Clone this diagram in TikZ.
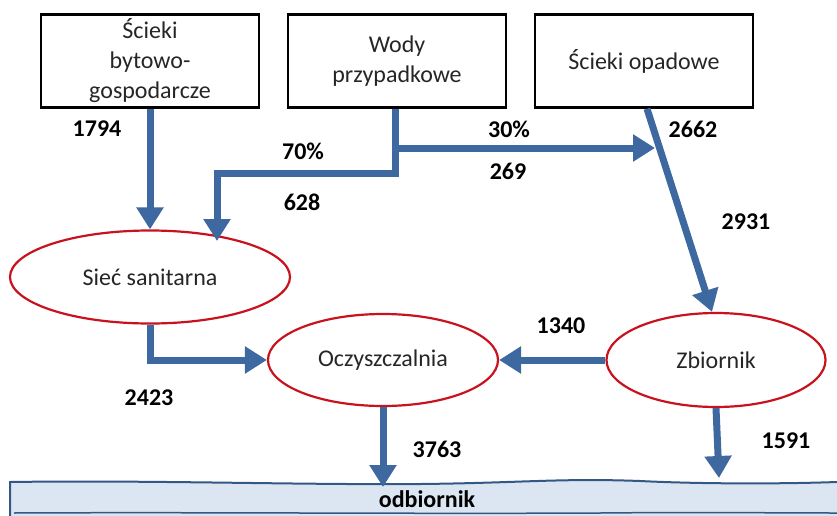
\documentclass[tikz,border=0pt]{standalone}
\usepackage{fontspec}
\setmainfont{Carlito}
\usetikzlibrary{shapes.geometric,arrows.meta,calc}
\definecolor{flow}{RGB}{62,104,160}
\definecolor{ring}{RGB}{200,18,30}
\definecolor{bandfill}{RGB}{220,230,242}
\definecolor{bandedge}{RGB}{52,88,132}
\definecolor{txt}{RGB}{38,38,38}

\begin{document}
\begin{tikzpicture}[x=1pt,y=-1pt,
  source/.style={draw=black, line width=2.5pt, minimum width=218pt, minimum height=93pt,
    align=center, inner sep=0pt, text=txt, font=\fontsize{24}{30}\selectfont},
  stage/.style={draw=ring, ellipse, line width=2.2pt, inner sep=0pt, text=txt,
    font=\fontsize{24}{28}\selectfont},
  flowline/.style={draw=flow, line width=7pt, line join=miter,
    -{Triangle[length=22pt,width=26pt]}},
  qty/.style={inner sep=0pt, font=\bfseries\fontsize{24}{28}\selectfont}]

\useasboundingbox (0,0) rectangle (837,516);

% receiving water body
\fill[bandfill] (10,482) .. controls (150,480) and (300,485) .. (420,484)
  .. controls (520,483) and (560,478) .. (640,481)
  .. controls (700,484) and (780,484) .. (837,482)
  -- (837,516) -- (10,516) -- cycle;
\draw[bandedge, line width=2pt] (10,516) -- (10,482)
  .. controls (150,480) and (300,485) .. (420,484)
  .. controls (520,483) and (560,478) .. (640,481)
  .. controls (700,484) and (780,484) .. (837,482);
\draw[bandedge, line width=1.5pt] (14,513) .. controls (200,512) and (400,514) .. (600,513)
  .. controls (700,512) and (780,513) .. (837,513);
\node[font=\bfseries\fontsize{24}{28}\selectfont, inner sep=0pt] (odb) at (427,499) {odbiornik};

% sources
\node[source] (bytowe) at (150,61) {Ścieki\\bytowo-\\gospodarcze};
\node[source] (wody) at (397,61) {Wody\\przypadkowe};
\node[source] (opad) at (644,61) {Ścieki opadowe};

% stages
\node[stage, minimum width=280pt, minimum height=93pt] (siec) at (150,277) {Sieć sanitarna};
\node[stage, minimum width=230pt, minimum height=92pt] (oczy) at (383,360) {Oczyszczalnia};
\node[stage, minimum width=219pt, minimum height=94pt] (zbior) at (716,360) {Zbiornik};

% junction points
\coordinate (split) at (395,148);
\coordinate (bend) at (395,173);
\coordinate (drop) at (217,241);
\coordinate (join) at (655,148);
\coordinate (out1) at (383,487);
\coordinate (out2) at (719,478);

% flows
\draw[flowline] (bytowe.south) -- (siec.north);
\draw[flowline] (wody.south -| bend) -- (bend) -| (drop);
\draw[flowline] (split) -- (join);
\draw[flowline] ($(opad.south)+(3,0)$) -- ($(zbior.north)+(-4,0)$);
\draw[flowline] (siec.south) |- (oczy.west);
\draw[flowline] (zbior.west) -- (oczy.east);
\draw[flowline] (oczy.south) -- (out1);
\draw[flowline] (zbior.south) -- (out2);

% quantities
\node[qty] (q1794) at (97,129) {1794};
\node[qty] (q70) at (303,151) {70\%};
\node[qty] (q628) at (302,202) {628};
\node[qty] (q30) at (509,129) {30\%};
\node[qty] (q269) at (508,171) {269};
\node[qty] (q2662) at (693,129) {2662};
\node[qty] (q2931) at (746,222) {2931};
\node[qty] (q1340) at (561,326) {1340};
\node[qty] (q2423) at (149,398) {2423};
\node[qty] (q3763) at (437,449) {3763};
\node[qty] (q1591) at (786,441) {1591};
\end{tikzpicture}
\end{document}
